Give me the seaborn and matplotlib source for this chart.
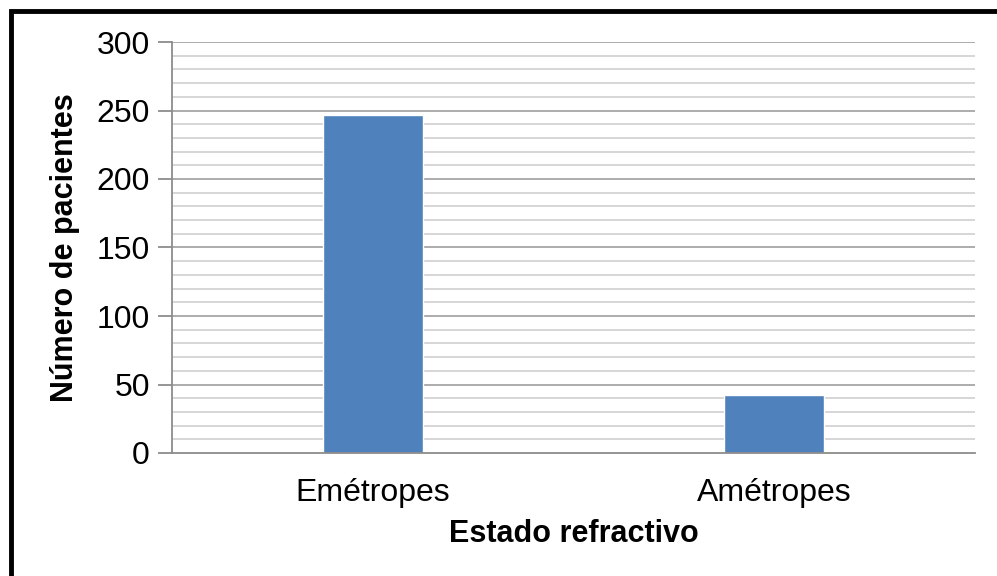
import numpy as np
import pandas as pd
import matplotlib
matplotlib.use('Agg')
import matplotlib.pyplot as plt
from matplotlib.patches import Rectangle
import seaborn as sns

# Data
categorias = ['Emétropes', 'Amétropes']
pacientes = [247, 42]
y_ticks = [0, 50, 100, 150, 200, 250, 300]

df = pd.DataFrame({'Estado refractivo': categorias, 'Número de pacientes': pacientes})

sns.set_style('white')
plt.rcParams['font.family'] = ['Liberation Sans', 'DejaVu Sans']
plt.rcParams['text.color'] = 'black'
plt.rcParams['axes.labelcolor'] = 'black'
plt.rcParams['xtick.color'] = 'black'
plt.rcParams['ytick.color'] = 'black'

fig = plt.figure(figsize=(9.97, 5.76), dpi=100)
ax = fig.add_axes([172 / 997, 1 - 453 / 576, (975 - 172) / 997, (453 - 42) / 576])

# minor and major gridlines
for v in np.arange(10, 300, 10):
    if v % 50:
        ax.axhline(v, color='#d0d0d0', lw=1.2, zorder=0)
for v in y_ticks[1:]:
    ax.axhline(v, color='#a6a6a6', lw=1.3, zorder=0)

sns.barplot(data=df, x='Estado refractivo', y='Número de pacientes', color='#4f81bd',
            width=0.25, saturation=1, ax=ax, zorder=2)

ax.set_xlim(-0.5, 1.5)
ax.set_ylim(0, 300)
ax.set_yticks(y_ticks)
ax.tick_params(axis='y', left=True, length=10, width=1.3, color='#8c8c8c',
               labelcolor='black', labelsize=23, pad=6)
ax.tick_params(axis='x', length=0, labelsize=23, labelcolor='black', pad=18)
for s in ['top', 'right']:
    ax.spines[s].set_visible(False)
for s in ['left', 'bottom']:
    ax.spines[s].set_color('#8c8c8c')
    ax.spines[s].set_linewidth(1.3)

ax.set_xlabel('Estado refractivo', fontsize=22, fontweight='bold', labelpad=8)
ax.set_ylabel('Número de pacientes', fontsize=22, fontweight='bold', labelpad=12)

# black frame around the chart (cropped at right and bottom)
fig.patches.append(Rectangle((10.5 / 997, -0.1), 1.2, 1 - 11 / 576 + 0.1,
                             transform=fig.transFigure, fill=False,
                             edgecolor='black', lw=3.5))

fig.savefig('out.png', dpi=100)
